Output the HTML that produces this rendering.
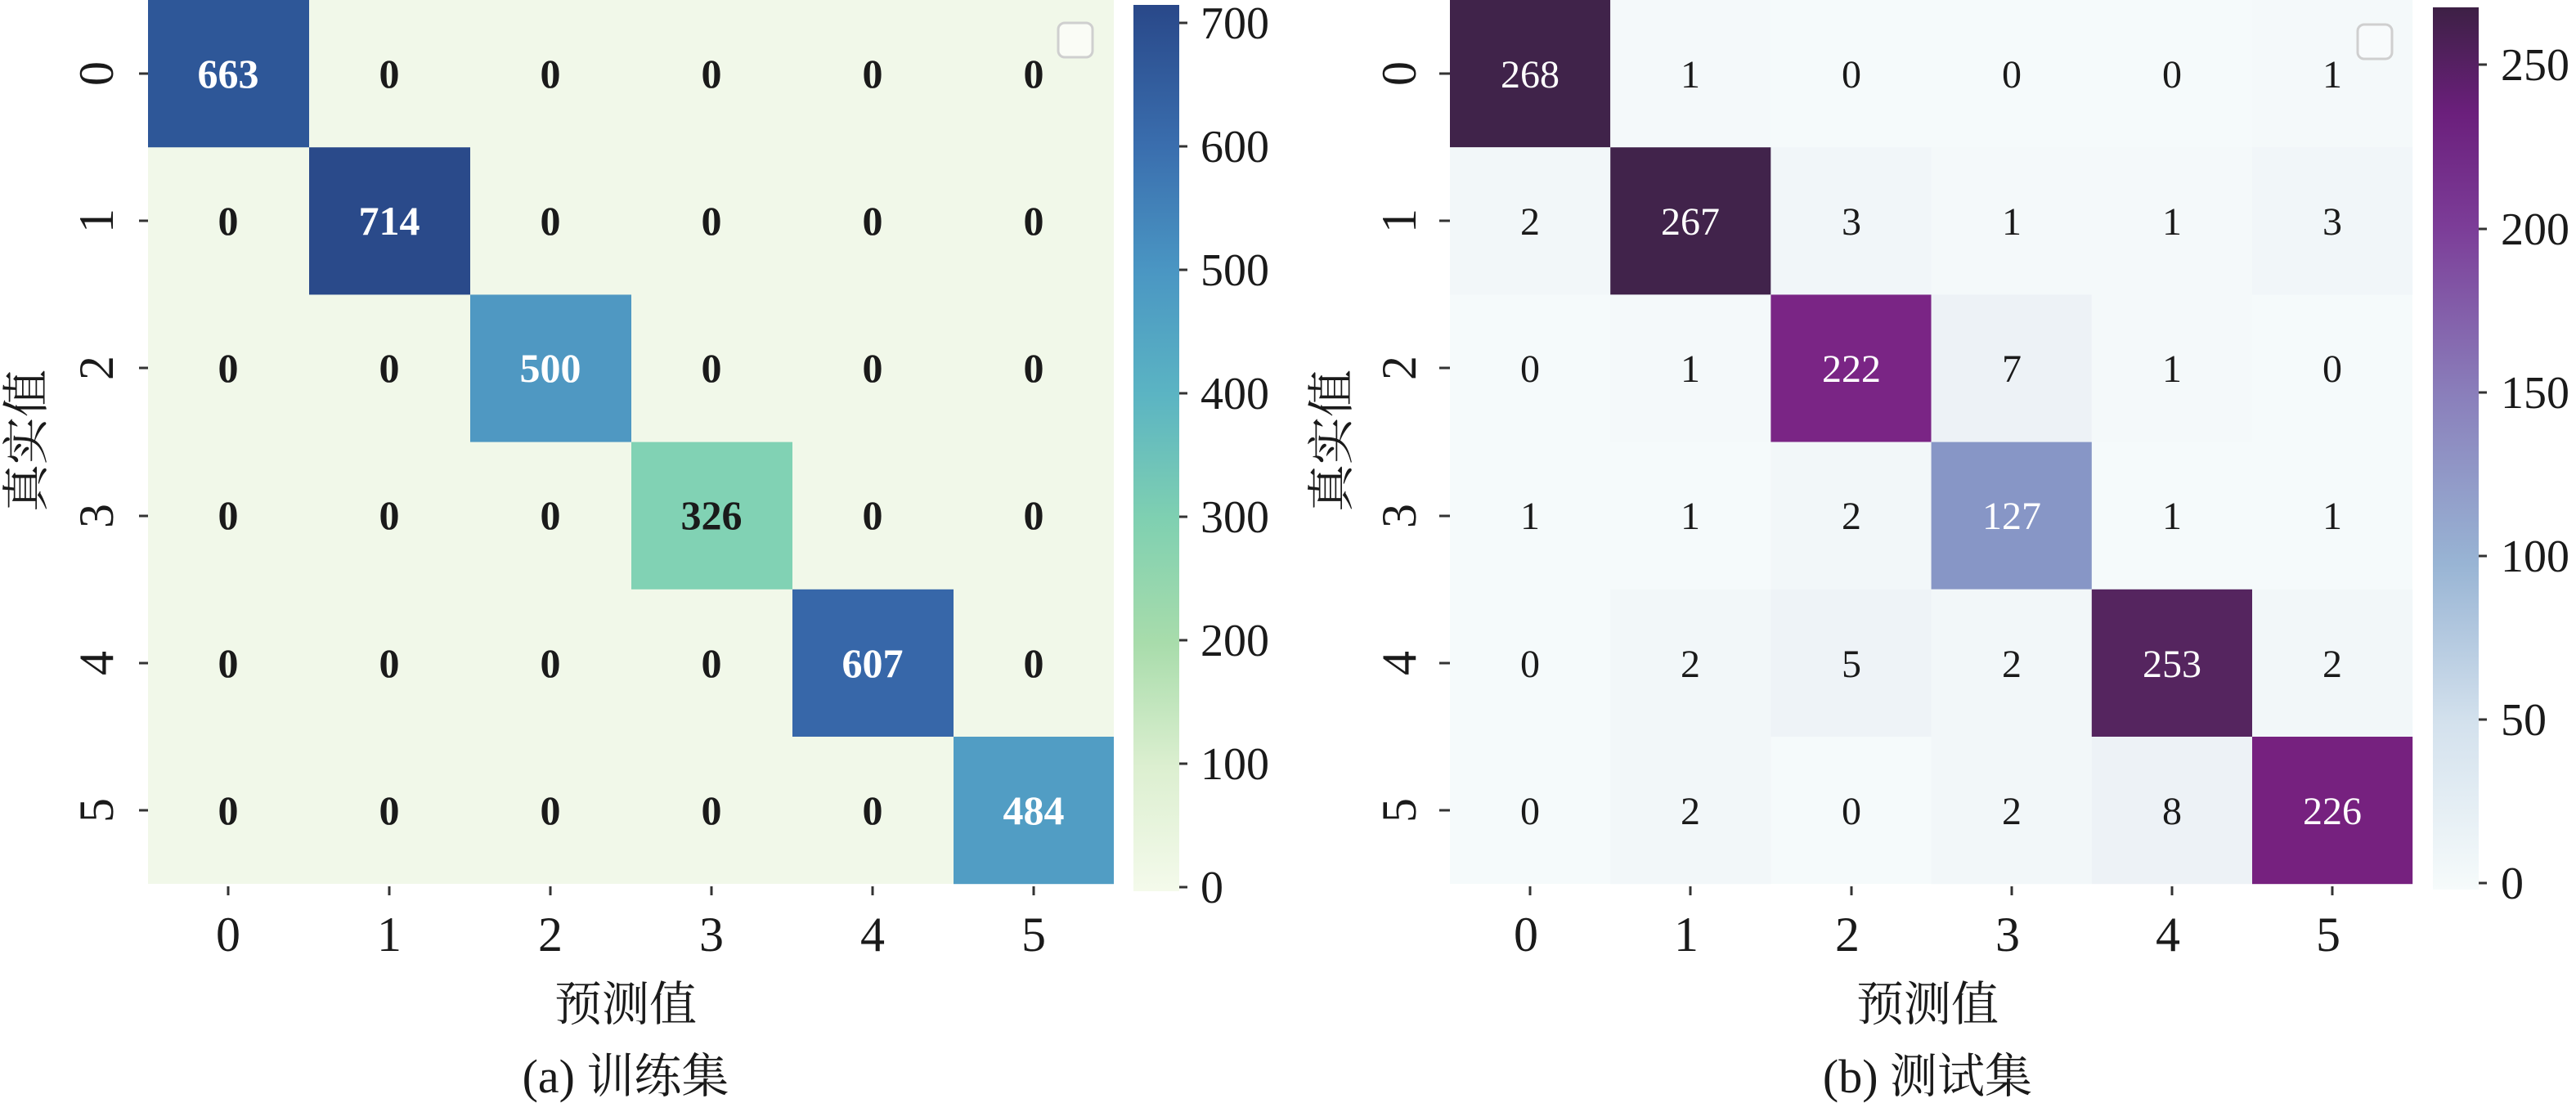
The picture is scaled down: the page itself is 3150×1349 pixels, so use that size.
<!DOCTYPE html>
<html><head><meta charset="utf-8"><style>
html,body{margin:0;padding:0;background:#fff;width:3150px;height:1349px;overflow:hidden}
text{font-family:"Liberation Serif","Noto Serif CJK SC",serif;fill:#1a1a1a}
</style></head><body>
<svg width="3150" height="1349" viewBox="0 0 3150 1349" xmlns="http://www.w3.org/2000/svg">
<defs>
<linearGradient id="g1" x1="0" y1="1" x2="0" y2="0">
<stop offset="0" stop-color="#f4faeb"/>
<stop offset="0.14" stop-color="#dcefd0"/>
<stop offset="0.28" stop-color="#a8dcab"/>
<stop offset="0.42" stop-color="#7fd0b1"/>
<stop offset="0.56" stop-color="#5bb4c3"/>
<stop offset="0.70" stop-color="#4a96c3"/>
<stop offset="0.84" stop-color="#3a6eae"/>
<stop offset="1" stop-color="#294889"/>
</linearGradient>
<linearGradient id="g2" x1="0" y1="1" x2="0" y2="0">
<stop offset="0" stop-color="#f6fbfb"/>
<stop offset="0.19" stop-color="#d3e1ed"/>
<stop offset="0.37" stop-color="#98b4d4"/>
<stop offset="0.56" stop-color="#8a7fbb"/>
<stop offset="0.75" stop-color="#7c3d98"/>
<stop offset="0.88" stop-color="#6b1f7c"/>
<stop offset="1" stop-color="#3d2045"/>
</linearGradient>
</defs>

<!-- LEFT HEATMAP -->
<rect x="181" y="0" width="1181" height="1081" fill="#f1f8e9"/>
<rect x="181" y="0" width="197" height="180.2" fill="#2e5798"/>
<rect x="378" y="180.2" width="197" height="180.2" fill="#2a4a8a"/>
<rect x="575" y="360.4" width="197" height="180.2" fill="#4f98c2"/>
<rect x="772" y="540.6" width="197" height="180.2" fill="#81d2b4"/>
<rect x="969" y="720.8" width="197" height="180.2" fill="#3767a9"/>
<rect x="1166" y="901" width="196" height="180.2" fill="#519dc4"/>
<g font-size="50" font-weight="bold" text-anchor="middle">
<text x="279" y="107" fill="#fff" style="fill:#fff">663</text><text x="476" y="107">0</text><text x="673" y="107">0</text><text x="870" y="107">0</text><text x="1067" y="107">0</text><text x="1264" y="107">0</text>
<text x="279" y="287">0</text><text x="476" y="287" style="fill:#fff">714</text><text x="673" y="287">0</text><text x="870" y="287">0</text><text x="1067" y="287">0</text><text x="1264" y="287">0</text>
<text x="279" y="467">0</text><text x="476" y="467">0</text><text x="673" y="467" style="fill:#fff">500</text><text x="870" y="467">0</text><text x="1067" y="467">0</text><text x="1264" y="467">0</text>
<text x="279" y="647">0</text><text x="476" y="647">0</text><text x="673" y="647">0</text><text x="870" y="647">326</text><text x="1067" y="647">0</text><text x="1264" y="647">0</text>
<text x="279" y="828">0</text><text x="476" y="828">0</text><text x="673" y="828">0</text><text x="870" y="828">0</text><text x="1067" y="828" style="fill:#fff">607</text><text x="1264" y="828">0</text>
<text x="279" y="1008">0</text><text x="476" y="1008">0</text><text x="673" y="1008">0</text><text x="870" y="1008">0</text><text x="1067" y="1008">0</text><text x="1264" y="1008" style="fill:#fff">484</text>
</g>
<rect x="1294" y="28" width="42" height="42" rx="8" fill="#fafcf6" stroke="#cfcfcf" stroke-width="3"/>
<!-- left colorbar -->
<rect x="1386" y="6" width="56" height="1084" fill="url(#g1)"/>
<g stroke="#333" stroke-width="3">
<line x1="1442" y1="28" x2="1452" y2="28"/><line x1="1442" y1="179" x2="1452" y2="179"/><line x1="1442" y1="330" x2="1452" y2="330"/><line x1="1442" y1="481" x2="1452" y2="481"/><line x1="1442" y1="632" x2="1452" y2="632"/><line x1="1442" y1="783" x2="1452" y2="783"/><line x1="1442" y1="934" x2="1452" y2="934"/><line x1="1442" y1="1085" x2="1452" y2="1085"/>
</g>
<g font-size="56">
<text x="1468" y="47">700</text><text x="1468" y="198">600</text><text x="1468" y="349">500</text><text x="1468" y="500">400</text><text x="1468" y="651">300</text><text x="1468" y="802">200</text><text x="1468" y="953">100</text><text x="1468" y="1104">0</text>
</g>
<!-- left axes ticks -->
<g stroke="#333" stroke-width="3">
<line x1="170" y1="90" x2="181" y2="90"/><line x1="170" y1="270" x2="181" y2="270"/><line x1="170" y1="450" x2="181" y2="450"/><line x1="170" y1="631" x2="181" y2="631"/><line x1="170" y1="811" x2="181" y2="811"/><line x1="170" y1="991" x2="181" y2="991"/>
<line x1="279" y1="1084" x2="279" y2="1095"/><line x1="476" y1="1084" x2="476" y2="1095"/><line x1="673" y1="1084" x2="673" y2="1095"/><line x1="870" y1="1084" x2="870" y2="1095"/><line x1="1067" y1="1084" x2="1067" y2="1095"/><line x1="1264" y1="1084" x2="1264" y2="1095"/>
</g>
<g font-size="60" text-anchor="middle">
<text x="279" y="1163">0</text><text x="476" y="1163">1</text><text x="673" y="1163">2</text><text x="870" y="1163">3</text><text x="1067" y="1163">4</text><text x="1264" y="1163">5</text>
<text transform="translate(138,90) rotate(-90)">0</text><text transform="translate(138,270) rotate(-90)">1</text><text transform="translate(138,450) rotate(-90)">2</text><text transform="translate(138,631) rotate(-90)">3</text><text transform="translate(138,811) rotate(-90)">4</text><text transform="translate(138,991) rotate(-90)">5</text>
<text x="765" y="1248" font-size="58">预测值</text>
<text x="765" y="1336" font-size="58">(a) 训练集</text>
<text transform="translate(52,539) rotate(-90)" font-size="58">真实值</text>
</g>

<!-- RIGHT HEATMAP -->
<rect x="1773" y="0" width="1177" height="1081" fill="#f5fafb"/>
<g>
<rect x="1773" y="0" width="196.2" height="180.2" fill="#40234a"/>
<rect x="1969.2" y="0" width="196.2" height="180.2" fill="#f4f9fa"/>
<rect x="2754" y="0" width="196.2" height="180.2" fill="#f4f9fa"/>
<rect x="1773" y="180.2" width="196.2" height="180.2" fill="#f2f7f9"/>
<rect x="1969.2" y="180.2" width="196.2" height="180.2" fill="#41234b"/>
<rect x="2165.4" y="180.2" width="196.2" height="180.2" fill="#f1f6f9"/>
<rect x="2361.6" y="180.2" width="196.2" height="180.2" fill="#f4f9fa"/>
<rect x="2557.8" y="180.2" width="196.2" height="180.2" fill="#f4f9fa"/>
<rect x="2754" y="180.2" width="196.2" height="180.2" fill="#f1f6f9"/>
<rect x="1969.2" y="360.4" width="196.2" height="180.2" fill="#f4f9fa"/>
<rect x="2165.4" y="360.4" width="196.2" height="180.2" fill="#7a2585"/>
<rect x="2361.6" y="360.4" width="196.2" height="180.2" fill="#edf2f6"/>
<rect x="2557.8" y="360.4" width="196.2" height="180.2" fill="#f4f9fa"/>
<rect x="2165.4" y="540.6" width="196.2" height="180.2" fill="#f2f7f9"/>
<rect x="2361.6" y="540.6" width="196.2" height="180.2" fill="#8796c6"/>
<rect x="1969.2" y="720.8" width="196.2" height="180.2" fill="#f2f7f9"/>
<rect x="2165.4" y="720.8" width="196.2" height="180.2" fill="#eef3f7"/>
<rect x="2361.6" y="720.8" width="196.2" height="180.2" fill="#f2f7f9"/>
<rect x="2557.8" y="720.8" width="196.2" height="180.2" fill="#55255f"/>
<rect x="2754" y="720.8" width="196.2" height="180.2" fill="#f2f7f9"/>
<rect x="1969.2" y="901" width="196.2" height="180.2" fill="#f2f7f9"/>
<rect x="2361.6" y="901" width="196.2" height="180.2" fill="#f2f7f9"/>
<rect x="2557.8" y="901" width="196.2" height="180.2" fill="#edf2f6"/>
<rect x="2754" y="901" width="196.2" height="180.2" fill="#76217f"/>
</g>
<g font-size="48" text-anchor="middle">
<text x="1871" y="107" style="fill:#fff">268</text><text x="2067" y="107">1</text><text x="2264" y="107">0</text><text x="2460" y="107">0</text><text x="2656" y="107">0</text><text x="2852" y="107">1</text>
<text x="1871" y="287">2</text><text x="2067" y="287" style="fill:#fff">267</text><text x="2264" y="287">3</text><text x="2460" y="287">1</text><text x="2656" y="287">1</text><text x="2852" y="287">3</text>
<text x="1871" y="467">0</text><text x="2067" y="467">1</text><text x="2264" y="467" style="fill:#fff">222</text><text x="2460" y="467">7</text><text x="2656" y="467">1</text><text x="2852" y="467">0</text>
<text x="1871" y="647">1</text><text x="2067" y="647">1</text><text x="2264" y="647">2</text><text x="2460" y="647" style="fill:#fff">127</text><text x="2656" y="647">1</text><text x="2852" y="647">1</text>
<text x="1871" y="828">0</text><text x="2067" y="828">2</text><text x="2264" y="828">5</text><text x="2460" y="828">2</text><text x="2656" y="828" style="fill:#fff">253</text><text x="2852" y="828">2</text>
<text x="1871" y="1008">0</text><text x="2067" y="1008">2</text><text x="2264" y="1008">0</text><text x="2460" y="1008">2</text><text x="2656" y="1008">8</text><text x="2852" y="1008" style="fill:#fff">226</text>
</g>
<rect x="2883" y="30" width="42" height="42" rx="8" fill="#f8fbfc" stroke="#cfcfcf" stroke-width="3"/>
<!-- right colorbar -->
<rect x="2975" y="9" width="56" height="1079" fill="url(#g2)"/>
<g stroke="#333" stroke-width="3">
<line x1="3031" y1="79" x2="3041" y2="79"/><line x1="3031" y1="280" x2="3041" y2="280"/><line x1="3031" y1="480" x2="3041" y2="480"/><line x1="3031" y1="680" x2="3041" y2="680"/><line x1="3031" y1="880" x2="3041" y2="880"/><line x1="3031" y1="1080" x2="3041" y2="1080"/>
</g>
<g font-size="56">
<text x="3058" y="98">250</text><text x="3058" y="299">200</text><text x="3058" y="499">150</text><text x="3058" y="699">100</text><text x="3058" y="899">50</text><text x="3058" y="1099">0</text>
</g>
<g stroke="#333" stroke-width="3">
<line x1="1760" y1="90" x2="1773" y2="90"/><line x1="1760" y1="270" x2="1773" y2="270"/><line x1="1760" y1="450" x2="1773" y2="450"/><line x1="1760" y1="631" x2="1773" y2="631"/><line x1="1760" y1="811" x2="1773" y2="811"/><line x1="1760" y1="991" x2="1773" y2="991"/>
<line x1="1871" y1="1084" x2="1871" y2="1095"/><line x1="2067" y1="1084" x2="2067" y2="1095"/><line x1="2264" y1="1084" x2="2264" y2="1095"/><line x1="2460" y1="1084" x2="2460" y2="1095"/><line x1="2656" y1="1084" x2="2656" y2="1095"/><line x1="2852" y1="1084" x2="2852" y2="1095"/>
</g>
<g font-size="60" text-anchor="middle">
<text x="1866" y="1163">0</text><text x="2062" y="1163">1</text><text x="2259" y="1163">2</text><text x="2455" y="1163">3</text><text x="2651" y="1163">4</text><text x="2847" y="1163">5</text>
<text transform="translate(1731,90) rotate(-90)">0</text><text transform="translate(1731,270) rotate(-90)">1</text><text transform="translate(1731,450) rotate(-90)">2</text><text transform="translate(1731,631) rotate(-90)">3</text><text transform="translate(1731,811) rotate(-90)">4</text><text transform="translate(1731,991) rotate(-90)">5</text>
<text x="2357" y="1248" font-size="58">预测值</text>
<text x="2357" y="1336" font-size="58">(b) 测试集</text>
<text transform="translate(1648,539) rotate(-90)" font-size="58">真实值</text>
</g>
</svg>
</body></html>
